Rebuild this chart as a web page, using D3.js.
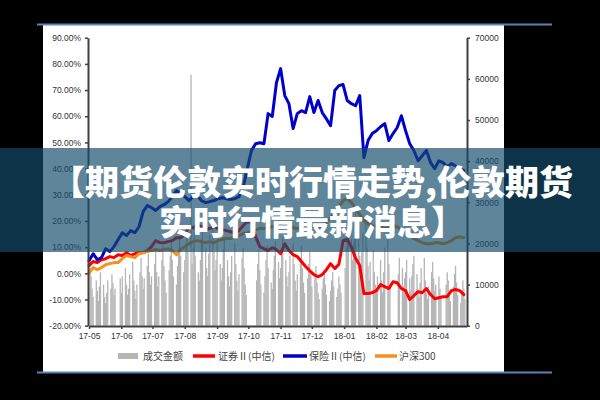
<!DOCTYPE html>
<html><head><meta charset="utf-8">
<script src="https://cdn.jsdelivr.net/npm/d3@7"></script>
<style>html,body{margin:0;padding:0;background:#000;}svg{display:block}</style>
</head><body><svg id="c" width="600" height="400"></svg>
<script>
// ---- data ----
const lineStart = "2017-05-01";   // line series sampled every 4 calendar days
const lineStepDays = 4;
const securities = [3.0,4.5,4.1,5.2,5.6,6.4,6.0,7.1,6.8,7.9,
 6.8,7.5,7.9,7.9,8.7,10.2,12.5,11.7,11.7,12.1,
 12.5,13.6,13.6,14.8,17.8,17.4,18.6,17.8,16.7,17.1,
 17.8,17.1,16.7,16.3,15.9,15.5,16.3,18.2,19.7,19.4,
 14.0,10.2,9.4,8.7,9.8,9.1,7.5,11.3,8.7,7.1,
 6.4,4.5,2.6,1.0,-0.5,-1.3,-0.5,1.4,3.7,1.8,
 3.5,12.5,13.0,10.0,5.8,3.0,-7.7,-7.7,-7.4,-6.6,
 -4.3,-5.1,-5.8,-3.2,-3.6,-5.8,-6.6,-10.0,-8.5,-7.0,
 -7.4,-5.8,-8.1,-9.7,-9.3,-8.9,-8.9,-6.6,-6.2,-6.6,-8.1];
const insurance = [4.8,7.5,5.2,6.0,9.4,8.3,10.2,12.9,15.5,14.4,
 16.3,15.5,17.8,23.6,25.9,25.1,24.0,25.5,26.2,27.4,
 29.3,31.6,30.4,29.3,27.8,29.3,29.7,27.8,27.0,27.4,
 27.8,28.5,28.9,28.5,28.2,28.5,29.3,32.7,40.0,46.9,
 49.5,49.9,49.5,61.0,59.9,72.8,78.2,67.9,64.8,55.3,
 61.0,62.1,61.4,67.5,61.4,66.0,61.4,59.0,56.4,69.8,
 71.7,72.1,66.0,64.8,64.0,67.9,44.2,50.7,53.4,54.5,
 56.0,57.2,50.7,53.4,55.7,60.2,54.5,49.5,46.9,43.0,
 44.9,46.9,42.3,40.0,43.0,42.3,40.7,41.9,41.1,40.0,39.2];
const csi300 = [0.0,2.2,1.4,2.2,3.3,3.7,4.1,4.1,5.6,6.8,
 6.4,6.0,7.5,7.9,8.3,8.7,9.1,8.7,9.1,9.4,
 8.7,7.1,9.1,10.2,11.3,12.1,12.5,12.1,11.7,12.1,
 11.7,12.5,12.9,13.3,13.3,14.0,14.4,15.2,15.5,15.9,
 16.7,17.1,17.1,17.4,17.8,18.2,18.2,17.8,18.6,17.4,
 17.0,17.8,18.6,18.2,17.8,17.0,17.8,19.4,21.3,23.2,
 25.5,27.8,28.5,27.0,24.7,22.4,20.1,19.0,18.2,17.8,
 18.2,17.1,17.4,18.2,17.8,16.7,15.9,14.4,13.3,12.5,
 11.7,11.3,11.3,11.7,11.7,11.3,11.7,12.5,13.6,14.0,13.6];
// daily turnover (trading days, May 2017 - Apr 2018)
const turnover = [
 16000,12000,9000,7000,11000,8500,6000,9500,13000,10000,7000,5500,8000,11000,9000,12500,10500,7500,9000,11500,
 8000,12000,14000,10000,7500,9000,12500,15500,11000,8500,6500,10000,13000,16500,12000,9000,11500,14500,17500,13000,10000,12000,
 15000,18000,13000,9500,12000,16000,19500,14500,11000,8000,13500,17000,21000,16000,12000,10000,14500,18500,22000,17000,13000,
 16000,20000,23000,18000,61000,15000,19000,23500,17000,13000,11000,16000,21000,24500,19000,14000,12000,17500,22000,25000,18000,13500,16000,
 20000,15000,11000,14000,18500,21500,16000,12000,9500,13000,17000,20000,15000,11000,8500,12500,16500,19000,14000,10000,7500,
 11000,15000,18500,13500,10000,8000,12000,16000,19500,14000,10500,9000,13500,17000,20500,15500,11500,
 14000,18000,21500,16000,12000,9500,13000,17000,20000,15000,11000,8500,12500,16500,19500,14000,10500,8000,11500,15000,18000,13000,
 9500,12000,14500,10500,8000,6500,9000,11500,13500,10000,7500,6000,8500,11000,13000,9500,7000,9000,12000,10000,8000,
 14000,19000,23500,27000,21000,16000,20000,25000,28500,22000,17000,13000,18000,22500,26000,19000,14500,11000,15500,18500,13000,10000,
 9000,12000,16000,11000,8000,13000,19000,21000,15000,10000,12500,16500,14000,9500,11500,
 13000,16000,11500,8500,12000,15000,17000,12500,9000,7000,10500,14000,16500,11000,8000,6500,9500,13000,15500,11500,8500,10000,
 12000,9000,7000,10000,13000,11000,8000,6000,9500,12500,14500,10500,7500,5500,8500,11000,9000,6500];
const tradeStart = "2017-05-02", tradeEnd = "2018-04-27";
const holidays = ["2017-05-29","2017-05-30","2017-10-02","2017-10-03","2017-10-04","2017-10-05","2017-10-06",
 "2018-01-01","2018-02-15","2018-02-16","2018-02-19","2018-02-20","2018-02-21","2018-04-05","2018-04-06"];
const monthTicks = ["17-05","17-06","17-07","17-08","17-09","17-10","17-11","17-12","18-01","18-02","18-03","18-04"];
const leftTicks = [90,80,70,60,50,40,30,20,10,0,-10,-20];
const rightTicks = [0,10000,20000,30000,40000,50000,60000,70000];
const legendLabels = ["成交金额","证券Ⅱ(中信)","保险Ⅱ(中信)","沪深300"];
const titleLines = ["【期货伦敦实时行情走势,伦敦期货","实时行情最新消息】"];

// ---- drawing ----
const parse = d3.timeParse("%Y-%m-%d");
const svg = d3.select("#c");
svg.append("rect").attr("width",600).attr("height",400).attr("fill","#000");
svg.append("rect").attr("x",43).attr("y",25).attr("width",461).attr("height",347).attr("fill","#fff");
[24.5,372.5].forEach(yy=>svg.append("line").attr("x1",37).attr("x2",552).attr("y1",yy).attr("y2",yy)
  .attr("stroke","#5d82b0").attr("stroke-width",2));

const x = d3.scaleTime().domain([parse("2017-05-01"), parse("2018-04-29")]).range([89,467]);
const yL = d3.scaleLinear().domain([-20,90]).range([325.7,37.7]);
const yR = d3.scaleLinear().domain([0,70000]).range([325.7,37.7]);

// trading days
const hol = new Set(holidays);
const fmt = d3.timeFormat("%Y-%m-%d");
const tradeDays = d3.timeDay.range(parse(tradeStart), d3.timeDay.offset(parse(tradeEnd),1))
  .filter(d => d.getDay()!==0 && d.getDay()!==6 && !hol.has(fmt(d)));
const n = Math.min(tradeDays.length, turnover.length);
const bars = d3.range(n).map(i => ({d: tradeDays[i], v: turnover[i]}));
svg.append("g").selectAll("rect").data(bars).join("rect")
  .attr("x", b => x(b.d)-0.65).attr("width",1.3)
  .attr("y", b => yR(b.v)).attr("height", b => yR(0)-yR(b.v))
  .attr("fill","#b5b5b5");

const lineDates = d3.range(securities.length).map(i => d3.timeDay.offset(parse(lineStart), i*lineStepDays));
const line = d3.line().x((v,i)=>x(lineDates[i])).y(v=>yL(v));
const series = [[securities,"#ff0000"],[insurance,"#0000cd"],[csi300,"#f7901e"]];
series.forEach(([vals,col]) => svg.append("path").attr("d", line(vals)).attr("fill","none")
  .attr("stroke",col).attr("stroke-width",3).attr("stroke-linejoin","round").attr("stroke-linecap","round"));

// axes
function styleAxis(g){
  g.select(".domain").attr("stroke","#404040").attr("stroke-width",2);
  g.selectAll(".tick line").attr("stroke","#404040").attr("stroke-width",1.5);
  g.selectAll("text").attr("fill","#333").attr("font-size","8.5px").attr("font-family","Liberation Sans, Arial, sans-serif");
}
svg.append("g").attr("transform","translate(88,0)")
  .call(d3.axisLeft(yL).tickValues(leftTicks).tickFormat(d=>d.toFixed(2)+"%").tickSize(3).tickSizeOuter(0).tickPadding(4))
  .call(styleAxis);
svg.append("g").attr("transform","translate(467,0)")
  .call(d3.axisRight(yR).tickValues(rightTicks).tickFormat(d3.format("d")).tickSize(3).tickSizeOuter(0).tickPadding(5))
  .call(styleAxis);
const mParse = d3.timeParse("%y-%m");
svg.append("g").attr("transform","translate(0,326)")
  .call(d3.axisBottom(x).tickValues(monthTicks.map(mParse)).tickFormat(d3.timeFormat("%y-%m")).tickSize(3).tickSizeOuter(0).tickPadding(4))
  .call(styleAxis);

// legend
const lg = svg.append("g").attr("font-family","Noto Sans CJK SC, sans-serif").attr("font-size","10px").attr("fill","#444");
lg.append("rect").attr("x",118).attr("y",353).attr("width",20).attr("height",6).attr("fill","#b5b5b5");
const lx = [[193,215,"#ff0000"],[283,307,"#0000cd"],[375,397,"#f7901e"]];
lx.forEach(([a,b,c])=>lg.append("line").attr("x1",a).attr("x2",b).attr("y1",356).attr("y2",356).attr("stroke",c).attr("stroke-width",3.5));
[143,218,309,399].forEach((tx,i)=>lg.append("text").attr("x",tx).attr("y",360).text(legendLabels[i]));

// banner overlay
svg.append("rect").attr("x",0).attr("y",148).attr("width",600).attr("height",104).attr("fill","rgba(19,75,107,0.68)");
const tg = svg.append("g").attr("font-family","Noto Sans CJK SC, sans-serif").attr("font-weight",900)
  .attr("font-size","34px").attr("fill","#fff").attr("text-anchor","middle");
[195,235].forEach((by,i)=>tg.append("text").attr("x",312).attr("y",by).text(titleLines[i]));
</script></body></html>
